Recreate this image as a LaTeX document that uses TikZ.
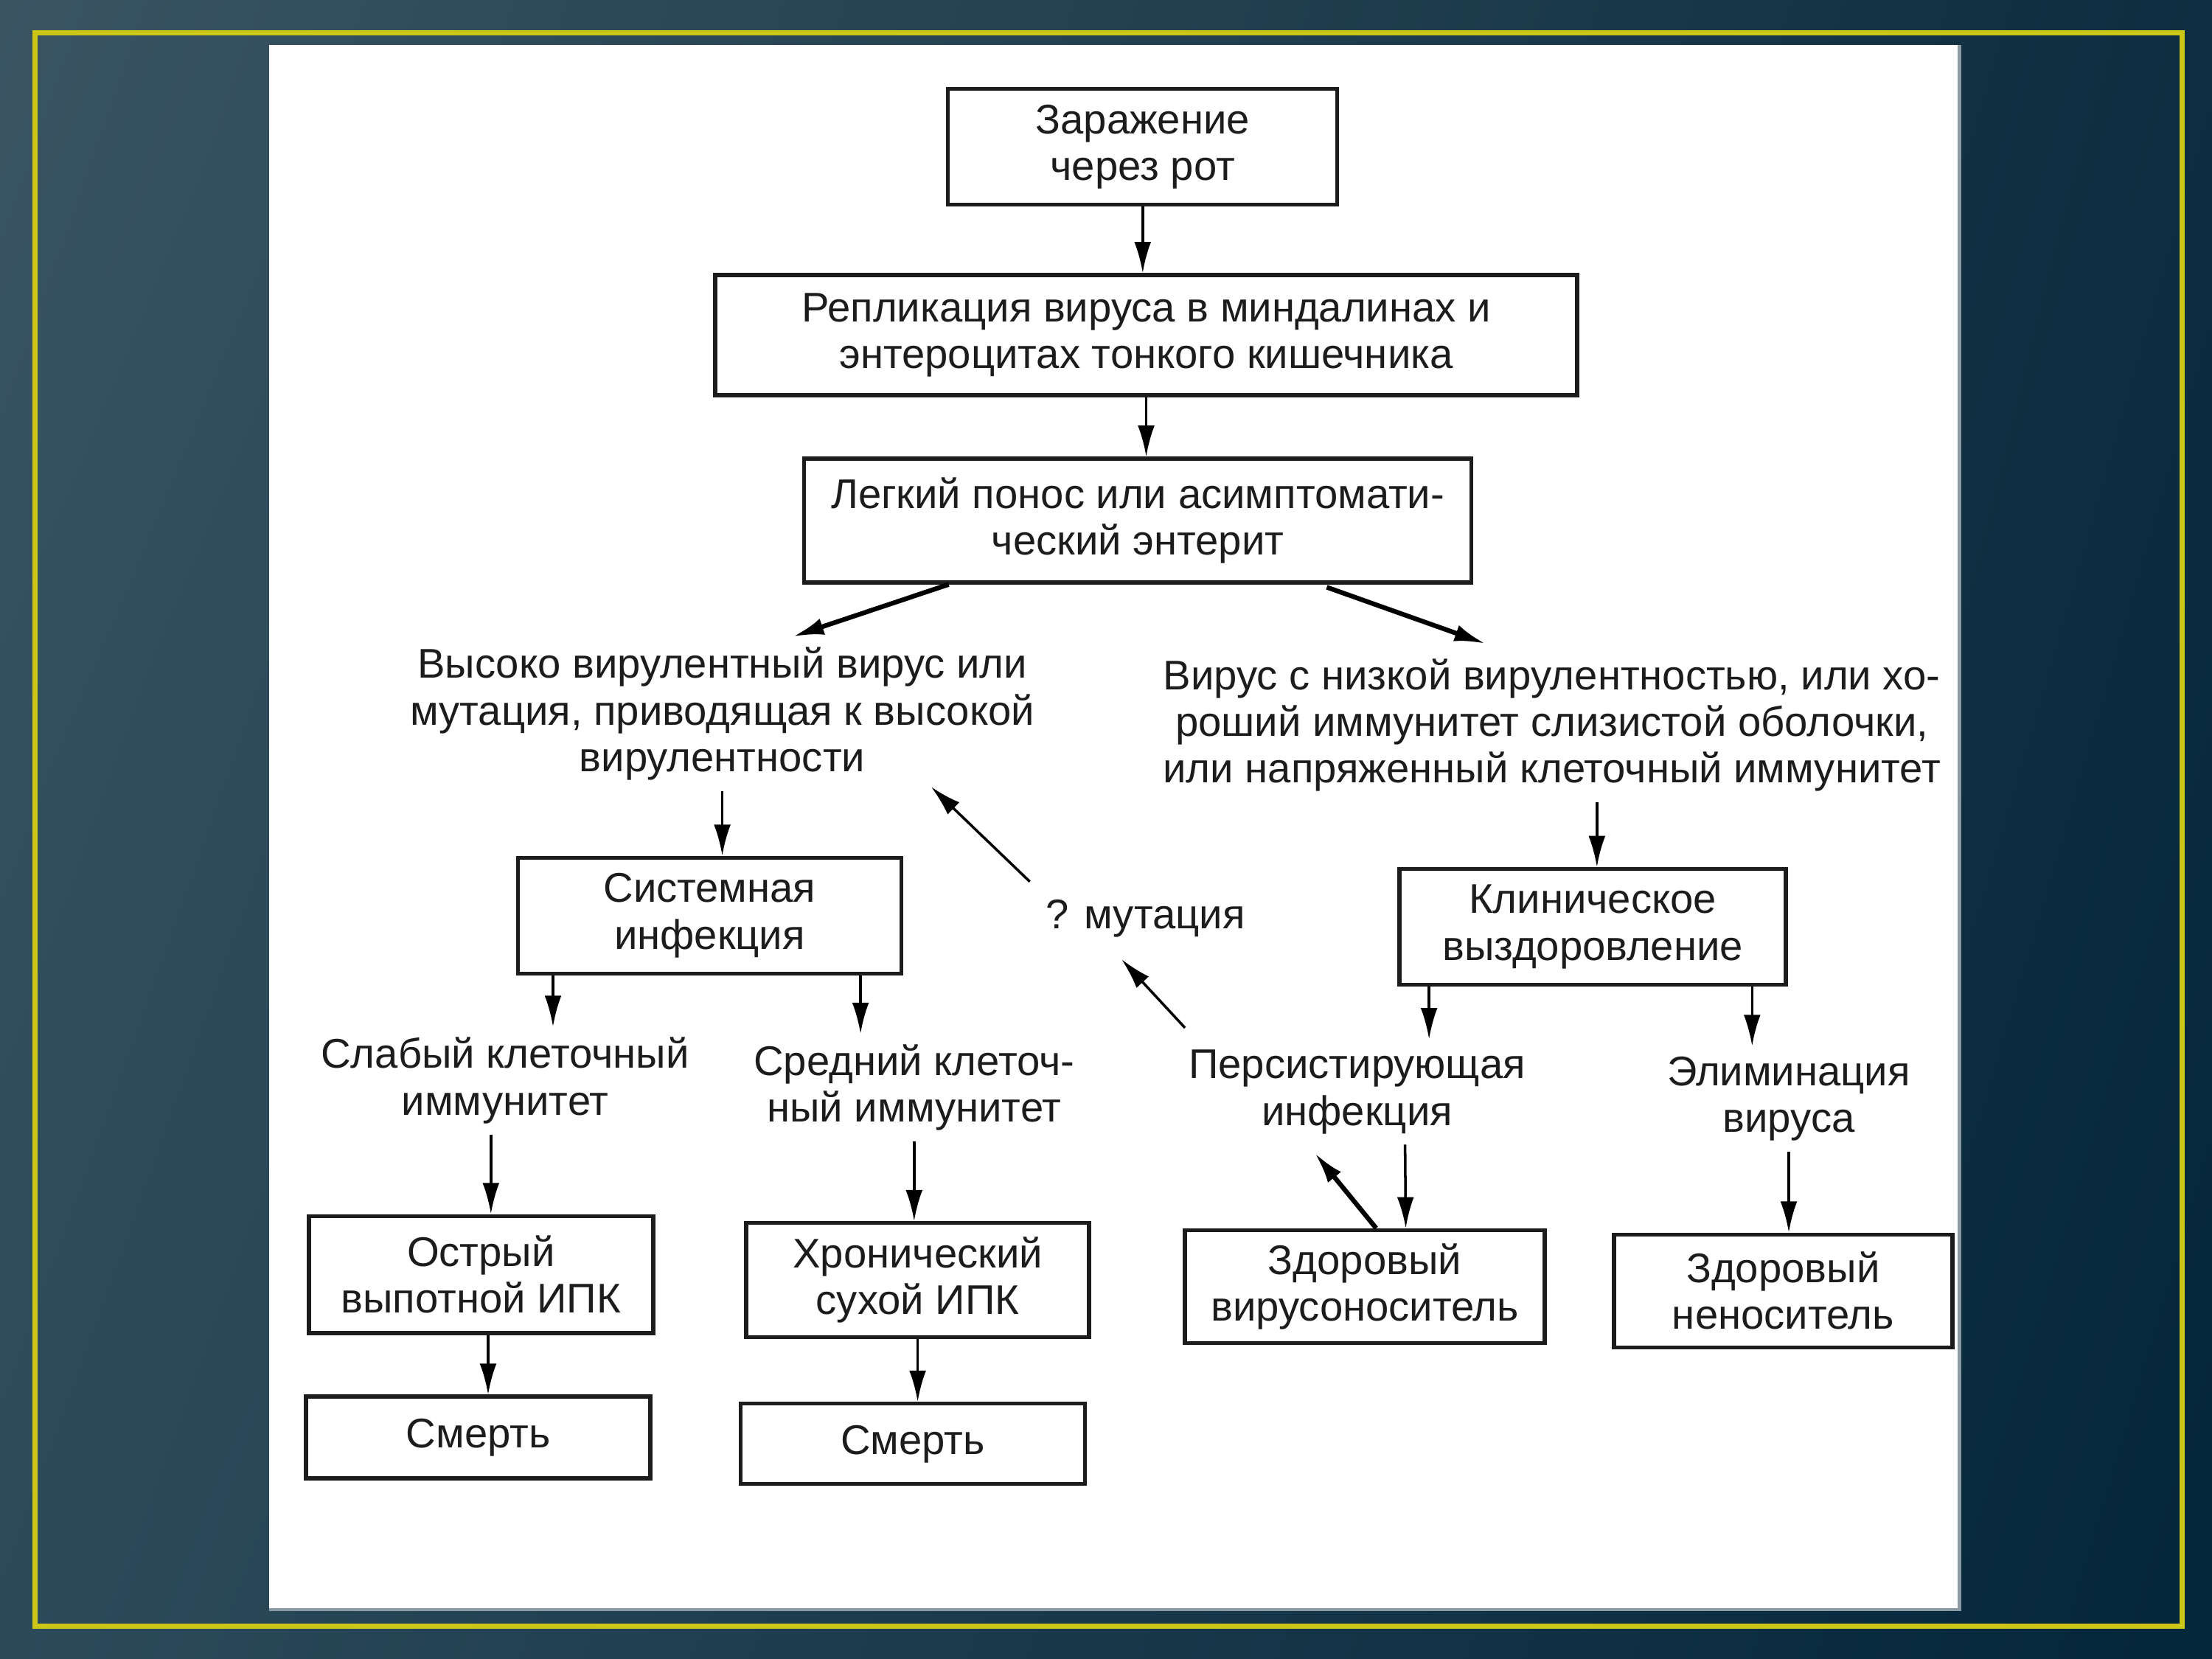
\documentclass[tikz,border=0pt]{standalone}
\usepackage{fontspec}
\setmainfont{Liberation Sans}
\usetikzlibrary{calc,arrows.meta,shadings}
\definecolor{ink}{HTML}{1C1C1C}
\definecolor{frameyellow}{RGB}{204,199,22}
\definecolor{papershade}{HTML}{8C9BA3}
\definecolor{bgul}{HTML}{3A5462}
\definecolor{bgur}{HTML}{0D2E40}
\definecolor{bgll}{HTML}{2C4A5A}
\definecolor{bglr}{HTML}{04263A}
\tikzset{
  stage/.style={ % boxed step of the scheme
    draw=ink, line width=1.5pt, rectangle, align=center,
    minimum width=4.67cm, minimum height=1.57cm,
    inner sep=2pt, text=ink
  },
  note/.style={ % step written without a frame
    align=center, inner xsep=2pt, inner ysep=4pt, text=ink
  },
  arr/.style={
    -{Latex[length=12pt,width=6.5pt]}, line width=1pt, draw=black
  },
  fatarr/.style={
    arr, line width=1.8pt
  }
}

\begin{document}
\begin{tikzpicture}[
    x=0.019133cm, y=-0.019133cm,
    font=\fontsize{16}{18}\selectfont
  ]

  % slide background, frame and paper
  \shade[upper left=bgul, upper right=bgur, lower left=bgll, lower right=bglr]
    (0,0) rectangle (1568,1176);
  \draw[frameyellow, line width=2pt] (25,23.5) rectangle (1547,1152.5);
  \fill[white] (191,32) rectangle (1389,1141);
  \draw[papershade, line width=1.2pt] (191,1141) -- (1389,1141) -- (1389,32);

  % main line
  \node[stage, minimum width=5.28cm] (infect) at (810,104) {Заражение\\через рот};
  \node[stage, minimum width=11.69cm, minimum height=1.63cm] (repl) at (812.5,237.5)
    {Репликация вируса в миндалинах и\\энтероцитах тонкого кишечника};
  \node[stage, minimum width=9.05cm, minimum height=1.68cm] (mild) at (806.5,369)
    {Легкий понос или асимптомати-\\ческий энтерит};

  \node[note] (high) at (512,506)
    {Высоко вирулентный вирус или\\мутация, приводящая к высокой\\вирулентности};
  \node[note] (low) at (1100,514)
    {Вирус с низкой вирулентностью, или хо-\\роший иммунитет слизистой оболочки,\\или напряженный клеточный иммунитет};

  \node[stage, minimum width=5.2cm] (sys) at (503,649) {Системная\\инфекция};
  \node[stage, minimum width=5.24cm] (clin) at (1129,657) {Клиническое\\выздоровление};
  \node[note] (mut) at (812,651) {? мутация};

  \node[note] (weak) at (358,766) {Слабый клеточный\\иммунитет};
  \node[note] (mid) at (648,771) {Средний клеточ-\\ный иммунитет};
  \node[note] (pers) at (962,774) {Персистирующая\\инфекция};
  \node[note] (elim) at (1268,779) {Элиминация\\вируса};

  \node[stage, minimum height=1.59cm] (acute) at (341,903.5) {Острый\\выпотной ИПК};
  \node[stage, minimum width=4.65cm, minimum height=1.55cm] (chron) at (650.5,907.5) {Хронический\\сухой ИПК};
  \node[stage, minimum width=4.88cm, minimum height=1.53cm] (carrier) at (967.5,912) {Здоровый\\вирусоноситель};
  \node[stage, minimum width=4.59cm, minimum height=1.53cm] (noncar) at (1264,915) {Здоровый\\неноситель};

  \node[stage, minimum height=1.11cm] (death1) at (339,1019) {Смерть};
  \node[stage, minimum height=1.09cm] (death2) at (647,1023.5) {Смерть};

  % arrows
  \draw[arr] (infect.south) -- (infect.south |- repl.north);
  \draw[arr] (repl.south) -- (repl.south |- mild.north);
  \draw[fatarr] ($(mild.south)+(-134,0)$) -- ($(high.north)+(50,0)$);
  \draw[fatarr] ($(mild.south)+(134,2)$) -- ($(low.north)+(-47,-3)$);

  \draw[arr] (high.south) -- (high.south |- sys.north);
  \draw[arr] ($(low.south)+(32,0)$) -- ($(clin.north)+(3,0)$);

  \draw[arr] ($(sys.south)+(-111,0)$) -- ($(weak.north)+(34,0)$);
  \draw[arr] ($(sys.south)+(107,0)$) -- ($(mid.north)+(-38,0)$);
  \draw[arr] ($(clin.south)+(-116,0)$) -- ($(pers.north)+(51,0)$);
  \draw[arr] ($(clin.south)+(113,0)$) -- ($(elim.north)+(-26,0)$);

  \draw[arr] ($(weak.south)+(-10,0)$) -- ($(acute.north)+(7,0)$);
  \draw[arr] (mid.south) -- (mid.south |- chron.north);
  \draw[arr] ($(pers.south)+(34,0)$) -- ($(carrier.north)+(29,0)$);
  \draw[fatarr] ($(carrier.north)+(8,0)$) -- ($(pers.south)+(-30,6)$);
  \draw[arr] (elim.south) -- (elim.south |- noncar.north);

  \draw[arr] ($(acute.south)+(5,0)$) -- ($(death1.north)+(7,0)$);
  \draw[arr] (chron.south) -- (chron.south |- death2.north);

  % mutation back to high virulence
  \draw[arr] ($(pers.north)+(-122,-8)$) -- ($(mut.south)+(-17,8)$);
  \draw[arr] ($(mut.north)+(-82,-5)$) -- ($(high.south)+(148,-3)$);
\end{tikzpicture}
\end{document}
